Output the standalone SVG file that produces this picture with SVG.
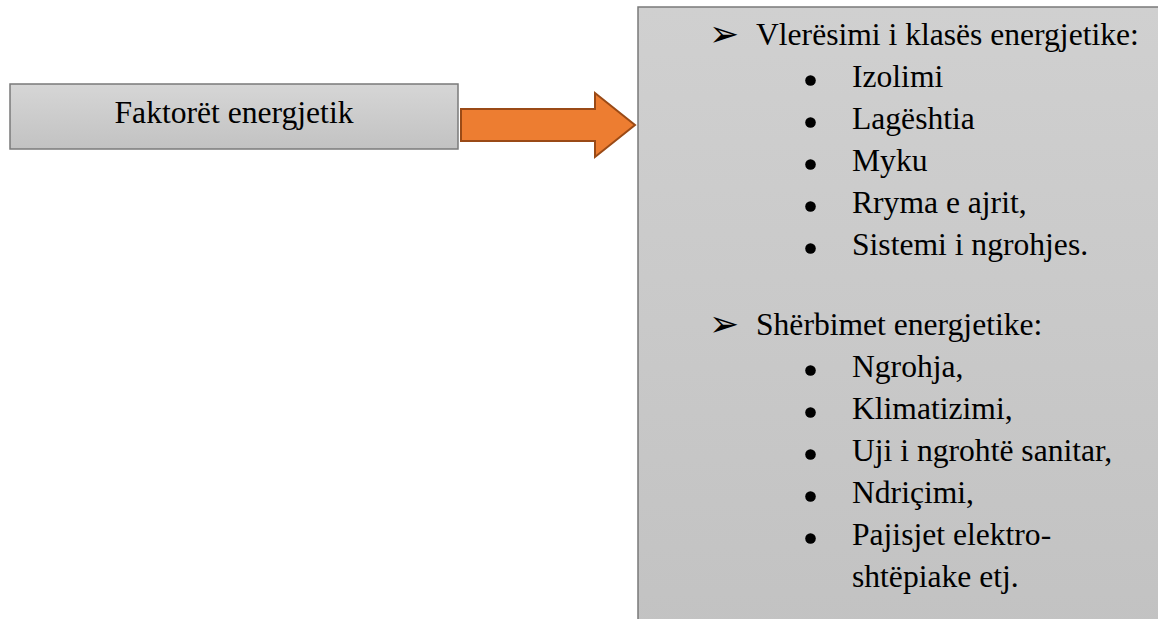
<svg xmlns="http://www.w3.org/2000/svg" width="1158" height="619" viewBox="0 0 1158 619">
<style>
.t{font-family:'Liberation Serif','Times New Roman','DejaVu Serif',serif;font-size:31.6px;fill:#000}
.arr{font-family:'DejaVu Sans',sans-serif;font-size:36px;fill:#000}
.box{stroke:#7a7a7a;stroke-width:1.5}
</style>
<defs>
<linearGradient id="g1" x1="0" y1="0" x2="0" y2="1">
<stop offset="0" stop-color="#d6d6d6"/>
<stop offset="1" stop-color="#c2c2c2"/>
</linearGradient>
<linearGradient id="g2" x1="0" y1="0" x2="0" y2="1">
<stop offset="0" stop-color="#d0d0d0"/>
<stop offset="1" stop-color="#c2c2c2"/>
</linearGradient>
</defs>
<rect width="1158" height="619" fill="#fff"/>
<g id="node-faktoret">
<rect class="box" x="10" y="84" width="448" height="65" fill="url(#g1)"/>
<text class="t" font-family="Liberation Serif, Times New Roman, serif" x="234" y="123" text-anchor="middle">Faktorët energjetik</text>
</g>
<g id="connectors">
<path d="M461,109 L595,109 L595,93 L635,125 L595,157 L595,141 L461,141 Z" fill="#ed7d31" stroke="#9a4a16" stroke-width="2" stroke-linejoin="miter"/>
</g>
<g id="node-list">
<rect class="box" x="638" y="7" width="540" height="630" fill="url(#g2)"/>
<text class="arr" x="709" y="46">➢</text>
<text class="t" x="756" y="45">Vlerësimi i klasës energjetike:</text>
<g fill="#000">
<circle cx="810.5" cy="80.5" r="5.3"/>
<circle cx="810.5" cy="122.5" r="5.3"/>
<circle cx="810.5" cy="164.5" r="5.3"/>
<circle cx="810.5" cy="206.5" r="5.3"/>
<circle cx="810.5" cy="248.5" r="5.3"/>
<circle cx="810.5" cy="370.5" r="5.3"/>
<circle cx="810.5" cy="412.5" r="5.3"/>
<circle cx="810.5" cy="454.5" r="5.3"/>
<circle cx="810.5" cy="496.5" r="5.3"/>
<circle cx="810.5" cy="538.5" r="5.3"/>
</g>
<text class="t" x="852" y="87">Izolimi</text>
<text class="t" x="852" y="129">Lagështia</text>
<text class="t" x="852" y="171">Myku</text>
<text class="t" x="852" y="213">Rryma e ajrit,</text>
<text class="t" x="852" y="255">Sistemi i ngrohjes.</text>
<text class="arr" x="709" y="336">➢</text>
<text class="t" x="756" y="335">Shërbimet energjetike:</text>
<text class="t" x="852" y="377">Ngrohja,</text>
<text class="t" x="852" y="419">Klimatizimi,</text>
<text class="t" x="852" y="461">Uji i ngrohtë sanitar,</text>
<text class="t" x="852" y="503">Ndriçimi,</text>
<text class="t" x="852" y="545">Pajisjet elektro-</text>
<text class="t" x="852" y="587">shtëpiake etj.</text>
</g>
</svg>
